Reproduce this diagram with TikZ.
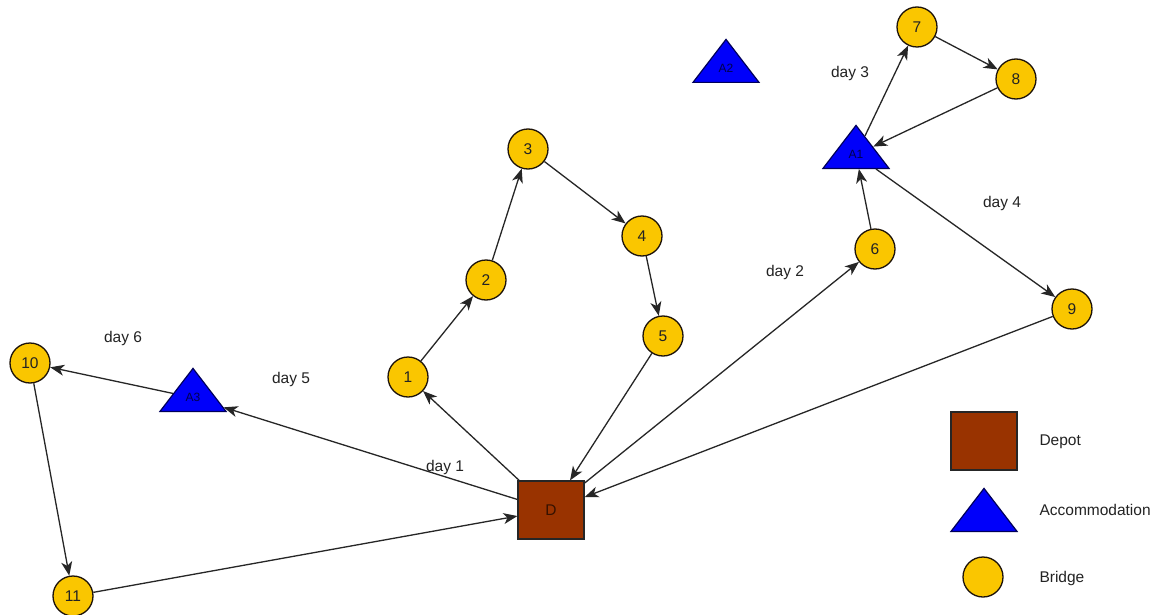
\documentclass[tikz,border=0pt]{standalone}
\usepackage{fontspec}
\setmainfont{Liberation Sans}
\usetikzlibrary{shapes.geometric,arrows.meta}
\definecolor{bridgefill}{RGB}{250,198,0}
\definecolor{depotfill}{RGB}{153,51,0}
\definecolor{accfill}{RGB}{0,0,250}
\definecolor{inktext}{RGB}{35,35,35}
\begin{document}
\begin{tikzpicture}[x=1pt,y=-1pt,
  font=\fontsize{15.5}{17}\selectfont,
  bridge/.style={circle,draw=black!85!brown,line width=1.3pt,fill=bridgefill,
    minimum size=40pt,inner sep=0pt,text=inktext},
  depot/.style={rectangle,draw=black!85,line width=1.2pt,fill=depotfill,
    minimum width=66pt,minimum height=58pt,inner sep=0pt,text=black!65!depotfill},
  acc/.style={isosceles triangle,shape border rotate=90,isosceles triangle stretches,
    draw=blue!35!black,line width=1.2pt,fill=accfill,minimum width=66pt,
    minimum height=43pt,inner sep=0pt,text=blue!30!black,
    font=\fontsize{12}{13}\selectfont,anchor=lower side},
  route/.style={-{Stealth[length=14pt,width=11pt,inset=4pt]},line width=1.3pt,draw=black!85},
  daylabel/.style={text=inktext},
  legendtext/.style={text=inktext,anchor=west}
]
\useasboundingbox[fill=white] (0,0) rectangle (1169,615);

% depot
\node[depot] (D) at (551,510) {D};

% accommodations (placed by base midpoint)
\node[acc] (A1) at (856,169) {A1};
\node[acc] (A2) at (726,83) {A2};
\node[acc] (A3) at (193,412) {A3};

% bridges
\node[bridge] (b1) at (408,377) {1};
\node[bridge] (b2) at (486,280) {2};
\node[bridge] (b3) at (528,149) {3};
\node[bridge] (b4) at (642,236) {4};
\node[bridge] (b5) at (663,336) {5};
\node[bridge] (b6) at (875,249) {6};
\node[bridge] (b7) at (917,27) {7};
\node[bridge] (b8) at (1016,79) {8};
\node[bridge] (b9) at (1072,309) {9};
\node[bridge] (b10) at (30,363) {10};
\node[bridge] (b11) at (73,596) {11};

% day 1
\draw[route] (D) -- (b1);
\draw[route] (b1) -- (b2);
\draw[route] (b2) -- (b3);
\draw[route] (b3) -- (b4);
\draw[route] (b4) -- (b5);
\draw[route] (b5) -- (D);
% days 2-4
\draw[route] (D) -- (b6);
\draw[route] (b6) -- (A1);
\draw[route] (A1) -- (b7);
\draw[route] (b7) -- (b8);
\draw[route] (b8) -- (A1);
\draw[route] (A1) -- (b9);
\draw[route] (b9) -- (D);
% days 5-6
\draw[route] (D) -- (A3);
\draw[route] (A3) -- (b10);
\draw[route] (b10) -- (b11);
\draw[route] (b11) -- (D);

% day labels
\node[daylabel] (l1) at (445,467) {day 1};
\node[daylabel] (l2) at (785,272) {day 2};
\node[daylabel] (l3) at (850,73) {day 3};
\node[daylabel] (l4) at (1002,203) {day 4};
\node[daylabel] (l5) at (291,379) {day 5};
\node[daylabel] (l6) at (123,338) {day 6};

% legend
\node[depot] (legD) at (984,441) {};
\node[acc] (legA) at (984,532) {};
\node[bridge] (legB) at (983,577) {};
\node[legendtext] (legDt) at (1036,442) {Depot};
\node[legendtext] (legAt) at (1036,510) {Accommodation};
\node[legendtext] (legBt) at (1036,578) {Bridge};
\end{tikzpicture}
\end{document}
